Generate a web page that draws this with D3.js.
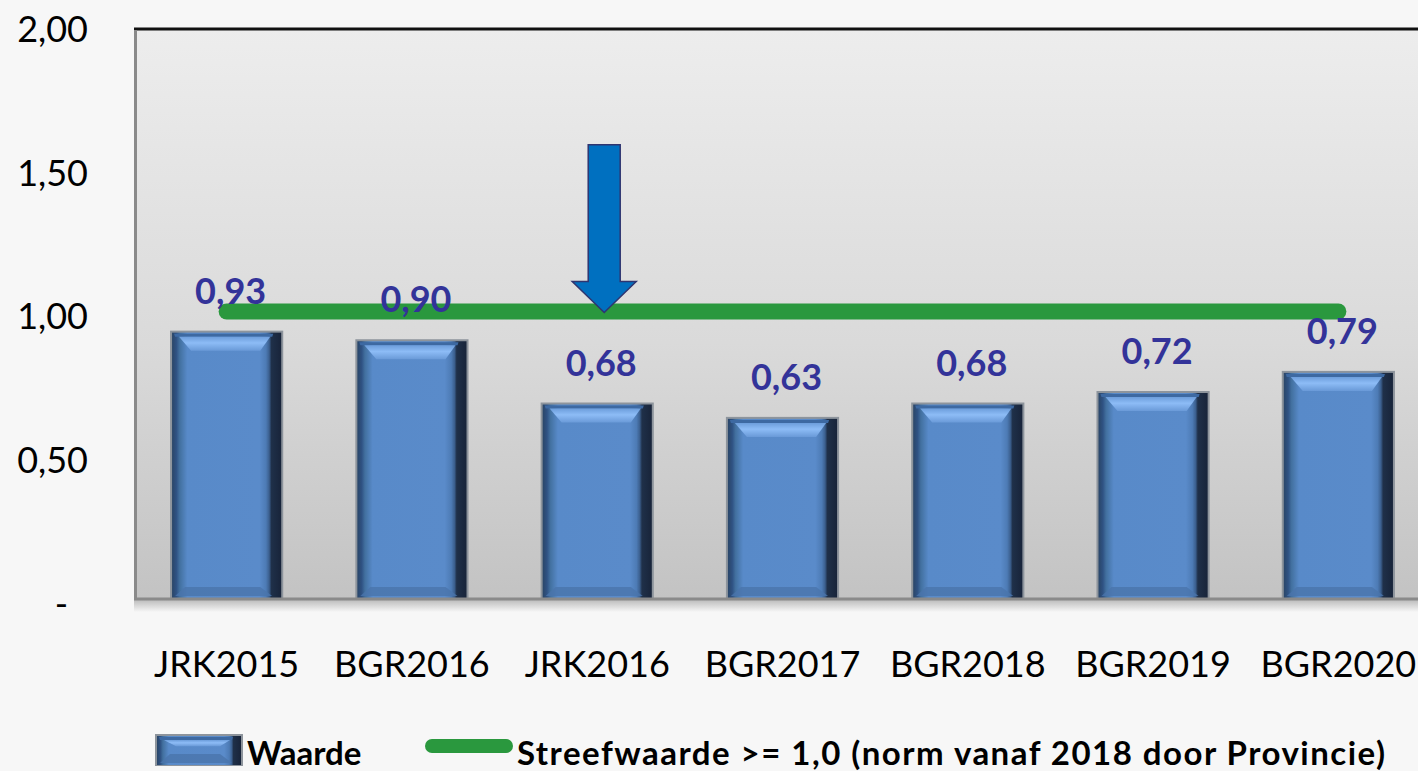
<!DOCTYPE html>
<html>
<head>
<meta charset="utf-8">
<script src="https://cdn.jsdelivr.net/npm/d3@7/dist/d3.min.js"></script>
<style>
  html, body { margin: 0; padding: 0; background: #f7f7f7; }
  svg { display: block; }
  text { font-family: Lato, "Open Sans", sans-serif; }
</style>
</head>
<body>
<svg id="chart" width="1418" height="771"></svg>
<script>
// ---- data ----
const categories = ["JRK2015", "BGR2016", "JRK2016", "BGR2017", "BGR2018", "BGR2019", "BGR2020"];
const waarde = [0.93, 0.90, 0.68, 0.63, 0.68, 0.72, 0.79];
const streefwaarde = [1.0, 1.0, 1.0, 1.0, 1.0, 1.0, 1.0];
const seriesNames = ["Waarde", "Streefwaarde >= 1,0 (norm vanaf 2018 door Provincie)"];
const yTicks = [0, 0.5, 1.0, 1.5, 2.0];
const yTickLabels = ["-", "0,50", "1,00", "1,50", "2,00"];
const arrowCategory = "JRK2016";
const arrowFrom = 1.58;
const arrowTo = 1.0;

// ---- layout ----
const W = 1418, H = 771;
const plot = { left: 134, right: 1431, top: 29, bottom: 599 };
const svg = d3.select("#chart");
const defs = svg.append("defs");

const x = d3.scaleBand().domain(categories).range([plot.left, plot.right])
  .paddingInner(0.4).paddingOuter(0.2);
const y = d3.scaleLinear().domain([0, 2]).range([599, 24]);

// gradients
const bg = defs.append("linearGradient").attr("id", "bgGrad").attr("x1", 0).attr("y1", 0).attr("x2", 0).attr("y2", 1);
bg.append("stop").attr("offset", "0%").attr("stop-color", "#ededed");
bg.append("stop").attr("offset", "55%").attr("stop-color", "#dadada");
bg.append("stop").attr("offset", "100%").attr("stop-color", "#c3c3c3");

const barG = defs.append("linearGradient").attr("id", "barGrad").attr("x1", 0).attr("y1", 0).attr("x2", 1).attr("y2", 0);
[[0, "#2a4668"], [0.04, "#2f5283"], [0.07, "#42709f"], [0.14, "#588ac9"], [0.80, "#5a8bca"],
 [0.86, "#4d7bb5"], [0.89, "#3b5f8e"], [0.91, "#1f3049"], [1, "#18243a"]]
  .forEach(s => barG.append("stop").attr("offset", s[0]).attr("stop-color", s[1]));

const hiG = defs.append("linearGradient").attr("id", "hiGrad").attr("x1", 0).attr("y1", 0).attr("x2", 0).attr("y2", 1);
hiG.append("stop").attr("offset", "0%").attr("stop-color", "#6c9ddb");
hiG.append("stop").attr("offset", "45%").attr("stop-color", "#8dbcf6");
hiG.append("stop").attr("offset", "100%").attr("stop-color", "#6a9ad8");

const shG = defs.append("linearGradient").attr("id", "shGrad").attr("x1", 0).attr("y1", 0).attr("x2", 0).attr("y2", 1);
shG.append("stop").attr("offset", "0%").attr("stop-color", "#bdbdbd");
shG.append("stop").attr("offset", "100%").attr("stop-color", "#f7f7f7");

// background
svg.append("rect").attr("width", W).attr("height", H).attr("fill", "#f7f7f7");

// plot area
svg.append("rect").attr("x", plot.left).attr("y", plot.top)
  .attr("width", plot.right - plot.left).attr("height", plot.bottom - plot.top)
  .attr("fill", "url(#bgGrad)");
// shadow under plot
svg.append("rect").attr("x", plot.left).attr("y", plot.bottom + 1)
  .attr("width", plot.right - plot.left).attr("height", 12).attr("fill", "url(#shGrad)");
// top border
svg.append("line").attr("x1", plot.left).attr("x2", plot.right).attr("y1", plot.top).attr("y2", plot.top)
  .attr("stroke", "#111").attr("stroke-width", 3);
// left border
svg.append("line").attr("x1", plot.left + 1.5).attr("x2", plot.left + 1.5).attr("y1", plot.top + 1).attr("y2", plot.bottom)
  .attr("stroke", "#8a8a8a").attr("stroke-width", 3);

// bars
function drawBar(g, bx, by, bw, bh) {
  g.append("rect").attr("x", bx - 1).attr("y", by - 1).attr("width", bw + 2).attr("height", bh + 1)
    .attr("fill", "#8d949c");
  g.append("rect").attr("x", bx + 1).attr("y", by + 1).attr("width", bw - 2).attr("height", bh - 2)
    .attr("fill", "url(#barGrad)");
  // top dark band
  g.append("polygon").attr("points", [[bx + 3, by + 2], [bx + bw - 9, by + 2], [bx + bw - 10, by + 5], [bx + 4, by + 5]].join(" "))
    .attr("fill", "#3d69a2");
  // highlight trapezoid
  const hh = Math.min(14, bh * 0.2);
  g.append("polygon").attr("points", [[bx + 8, by + 5], [bx + bw - 12, by + 5], [bx + bw - 22, by + 5 + hh], [bx + 20, by + 5 + hh]].join(" "))
    .attr("fill", "url(#hiGrad)");
  // bottom bevel
  g.append("polygon").attr("points", [[bx + 14, by + bh - 12], [bx + bw - 22, by + bh - 12], [bx + bw - 10, by + bh - 3], [bx + 4, by + bh - 3]].join(" "))
    .attr("fill", "#4a74ab").attr("opacity", 0.8);
}

const barsG = svg.append("g");
categories.forEach((c, i) => {
  const bx = x(c), bw = x.bandwidth();
  const by = y(waarde[i]);
  const bh = y(0) - by;
  drawBar(barsG.append("g"), bx, by, bw, bh);
});

// axis line (bottom)
svg.append("line").attr("x1", plot.left).attr("x2", plot.right).attr("y1", plot.bottom).attr("y2", plot.bottom)
  .attr("stroke", "#8a8a8a").attr("stroke-width", 3);

// norm line
const line = d3.line().x((d, i) => x(categories[i]) + x.bandwidth() / 2).y(d => y(d));
svg.append("path").datum(streefwaarde).attr("d", line)
  .attr("fill", "none").attr("stroke", "#2a983e").attr("stroke-width", 16).attr("stroke-linecap", "round");

// value labels
svg.append("g").selectAll("text").data(waarde).join("text")
  .attr("x", (d, i) => x(categories[i]) + x.bandwidth() / 2 + 4)
  .attr("y", d => y(d) - 28)
  .attr("text-anchor", "middle")
  .attr("font-size", 36).attr("font-weight", "bold").attr("fill", "#333399")
  .text(d => d3.format(".2f")(d).replace(".", ","));

// arrow annotation
(function () {
  const cx = x(arrowCategory) + x.bandwidth() / 2 + 7;
  const yTop = y(arrowFrom), yTip = y(arrowTo) + 1;
  const sw = 16, hw = 32, hl = 31;
  const pts = [[cx - sw, yTop], [cx + sw, yTop], [cx + sw, yTip - hl], [cx + hw, yTip - hl], [cx, yTip],
               [cx - hw, yTip - hl], [cx - sw, yTip - hl]];
  svg.append("polygon").attr("points", pts.join(" "))
    .attr("fill", "#0070c0").attr("stroke", "#2f3570").attr("stroke-width", 1.5);
})();

// y tick labels
svg.append("g").selectAll("text").data(yTicks).join("text")
  .attr("x", d => d === 0 ? 68 : 88)
  .attr("y", d => y(d) + 5)
  .attr("dy", "0.36em")
  .attr("text-anchor", "end")
  .attr("font-size", 36).attr("fill", "#000")
  .text((d, i) => yTickLabels[i]);

// x category labels
svg.append("g").selectAll("text").data(categories).join("text")
  .attr("x", d => x(d) + x.bandwidth() / 2)
  .attr("y", 677)
  .attr("text-anchor", "middle")
  .attr("font-size", 36).attr("fill", "#000")
  .text(d => d);

// legend
const lg = svg.append("g");
drawBar(lg.append("g"), 156, 735, 86, 31);
lg.append("text").attr("x", 247).attr("y", 765).attr("font-size", 33).attr("font-weight", "bold")
  .attr("fill", "#000").text(seriesNames[0]);
lg.append("line").attr("x1", 432).attr("x2", 506).attr("y1", 746).attr("y2", 746)
  .attr("stroke", "#2a983e").attr("stroke-width", 14).attr("stroke-linecap", "round");
lg.append("text").attr("x", 517).attr("y", 765).attr("font-size", 33).attr("font-weight", "bold")
  .attr("fill", "#000").attr("textLength", 868).attr("lengthAdjust", "spacing").text(seriesNames[1]);
</script>
</body>
</html>
